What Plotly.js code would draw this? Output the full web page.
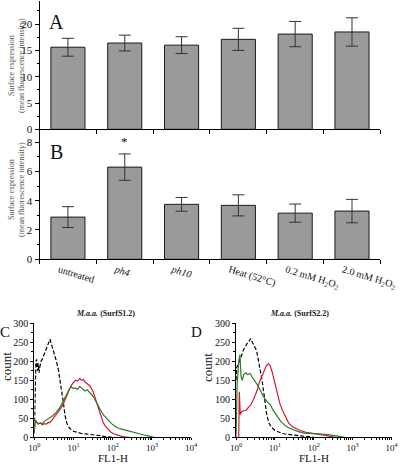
<!DOCTYPE html>
<html>
<head>
<meta charset="utf-8">
<script src="https://cdn.plot.ly/plotly-3.0.1.min.js"></script>
<style>html,body{margin:0;padding:0;background:#fff;}#chart{width:400px;height:464px;}</style>
</head>
<body>
<div id="chart"></div>
<script>
// ---- Bar chart data (panels A and B) ----
const categories = ['untreated', '<i>ph4</i>', '<i>ph10</i>', 'Heat (52°C)', '0.2 mM H<sub>2</sub>O<sub>2</sub>', '2.0 mM H<sub>2</sub>O<sub>2</sub>'];
const meanA = [15.6, 16.4, 16.0, 17.1, 18.1, 18.5];
const errA  = [1.7, 1.5, 1.6, 2.1, 2.4, 2.7];
const meanB = [2.88, 6.29, 3.75, 3.68, 3.15, 3.29];
const errB  = [0.71, 0.90, 0.47, 0.72, 0.62, 0.80];

// ---- Flow cytometry histograms (panels C and D); FL1-H as log10 exponent ----
const cBlackLog = [0.00,0.02,0.04,0.06,0.08,0.10,0.12,0.14,0.17,0.20,0.24,0.28,0.32,0.36,0.40,0.45,0.50,0.55,0.61,0.66,0.70,0.74,0.78,0.82,0.87,0.92,1.00,1.10,1.20,1.30,1.40,1.50,1.60,1.70,1.80,1.90,2.00];
const cBlackCount = [10,120,200,205,175,195,170,185,200,205,215,230,240,250,258,240,225,205,180,150,125,92,60,40,28,22,16,12,10,9,8,7,5,4,2,1,0];
const cRedLog = [0.00,0.02,0.05,0.10,0.15,0.20,0.25,0.30,0.35,0.40,0.45,0.50,0.57,0.65,0.74,0.83,0.90,0.95,1.00,1.05,1.10,1.16,1.20,1.25,1.30,1.36,1.42,1.50,1.55,1.60,1.67,1.72,1.76,1.82,1.89,1.95,2.01,2.10,2.20,2.30,2.40];
const cRedCount = [20,38,42,35,38,33,36,35,38,40,45,52,60,72,88,112,128,138,143,150,148,155,150,152,145,140,135,120,105,92,70,50,38,28,20,14,10,6,3,1,0];
const cGreenLog = [0.00,0.02,0.05,0.10,0.15,0.20,0.25,0.30,0.35,0.40,0.47,0.55,0.65,0.72,0.78,0.84,0.90,0.95,1.00,1.05,1.10,1.16,1.22,1.29,1.35,1.40,1.45,1.50,1.55,1.60,1.66,1.72,1.78,1.84,1.90,1.97,2.05,2.12,2.20,2.30,2.40,2.50,2.60,2.70,2.80,2.90,3.00,3.05];
const cGreenCount = [15,45,40,35,38,36,42,45,50,52,57,65,78,92,103,118,128,133,128,130,126,134,128,122,125,120,115,108,98,88,78,66,57,50,42,36,30,25,22,19,16,13,11,8,6,4,1,0];

const dBlackLog = [0.00,0.02,0.06,0.10,0.15,0.20,0.25,0.30,0.35,0.38,0.42,0.47,0.53,0.58,0.63,0.67,0.70,0.75,0.79,0.84,0.90,1.00,1.10,1.20,1.30,1.45,1.60,1.75,1.90,2.00];
const dBlackCount = [150,185,192,205,215,232,240,250,255,260,250,240,228,200,175,150,128,88,60,40,28,18,13,10,8,6,5,3,1,0];
const dRedLog = [0.07,0.085,0.11,0.15,0.20,0.27,0.33,0.38,0.45,0.50,0.55,0.60,0.66,0.72,0.78,0.83,0.88,0.93,0.98,1.03,1.08,1.13,1.20,1.27,1.35,1.45,1.55,1.65,1.80,1.95,2.10,2.30,2.45,2.55];
const dRedCount = [0,120,60,68,70,72,80,85,100,112,125,145,158,175,188,194,188,172,150,128,105,88,70,55,38,28,22,18,13,10,8,5,2,0];
const dGreenLog = [0.00,0.03,0.07,0.10,0.13,0.16,0.20,0.25,0.30,0.36,0.42,0.48,0.55,0.62,0.70,0.79,0.88,0.95,1.05,1.15,1.25,1.35,1.48,1.60,1.75,1.90,2.10,2.30,2.50,2.60,2.70,2.80];
const dGreenCount = [0,140,200,217,160,150,165,170,165,168,158,150,138,125,108,95,86,72,58,42,32,25,20,15,11,10,10,8,5,3,1,0];

const decadeVals = [1, 10, 100, 1000, 10000];
const decadeText = ['10<sup>0</sup>', '10<sup>1</sup>', '10<sup>2</sup>', '10<sup>3</sup>', '10<sup>4</sup>'];

const SERIF = '"Liberation Serif", "Times New Roman", serif';
const BAR_COLOR = '#9a9a9a';
const RED = '#d11a36';
const GREEN = '#2a7a2a';

const toLin = arr => arr.map(v => Math.pow(10, v));
const minorLog = [];
for (let d = 0; d < 4; d++) for (let k = 2; k <= 9; k++) minorLog.push(k * Math.pow(10, d));

const idx = categories.map((_, i) => i);

const traces = [
  { type: 'bar', x: categories, y: meanA, xaxis: 'x', yaxis: 'y', width: 0.6,
    marker: { color: BAR_COLOR, line: { color: '#1a1a1a', width: 1 } },
    error_y: { type: 'data', array: errA, visible: true, color: '#333', thickness: 1, width: 6 },
    hoverinfo: 'skip', showlegend: false },
  { type: 'bar', x: categories, y: meanB, xaxis: 'x2', yaxis: 'y2', width: 0.6,
    marker: { color: BAR_COLOR, line: { color: '#1a1a1a', width: 1 } },
    error_y: { type: 'data', array: errB, visible: true, color: '#333', thickness: 1, width: 6 },
    hoverinfo: 'skip', showlegend: false },
  { type: 'scatter', mode: 'lines', x: toLin(cBlackLog), y: cBlackCount, xaxis: 'x5', yaxis: 'y5',
    line: { color: '#000', width: 1.2, dash: '4px,2px' }, showlegend: false },
  { type: 'scatter', mode: 'lines', x: toLin(cRedLog), y: cRedCount, xaxis: 'x5', yaxis: 'y5',
    line: { color: RED, width: 1.2 }, showlegend: false },
  { type: 'scatter', mode: 'lines', x: toLin(cGreenLog), y: cGreenCount, xaxis: 'x5', yaxis: 'y5',
    line: { color: GREEN, width: 1.2 }, showlegend: false },
  { type: 'scatter', mode: 'lines', x: toLin(dBlackLog), y: dBlackCount, xaxis: 'x6', yaxis: 'y6',
    line: { color: '#000', width: 1.2, dash: '4px,2px' }, showlegend: false },
  { type: 'scatter', mode: 'lines', x: toLin(dRedLog), y: dRedCount, xaxis: 'x6', yaxis: 'y6',
    line: { color: RED, width: 1.2 }, showlegend: false },
  { type: 'scatter', mode: 'lines', x: toLin(dGreenLog), y: dGreenCount, xaxis: 'x6', yaxis: 'y6',
    line: { color: GREEN, width: 1.2 }, showlegend: false }
];

const barXDomain = [0.0988, 0.951];
const domA = [0.7213, 0.998];
const domB = [0.4412, 0.7213];
const rangeA = [0, 24.4];
const rangeB = [0, 8.87];
const tickFont = { family: SERIF, size: 11, color: '#111' };

const catBottom = (anchor, labels) => ({
  type: 'category', domain: barXDomain, anchor: anchor, range: [-0.5, 5.5],
  tickson: 'boundaries', ticks: 'outside', ticklen: 4, tickcolor: '#000',
  showticklabels: labels, tickangle: labels ? 17 : 0, ticklabelshift: labels ? -9 : 0,
  tickfont: { family: SERIF, size: 10, color: '#111' },
  showline: true, linecolor: '#000', linewidth: 1, showgrid: false, zeroline: false, fixedrange: true
});
const topTicks = (over, anchor) => ({
  overlaying: over, anchor: anchor, side: 'top', type: 'linear', range: [-0.5, 5.5],
  tickmode: 'array', tickvals: idx, ticks: 'inside', ticklen: 4, tickcolor: '#000',
  showticklabels: false, showline: true, linecolor: '#000', linewidth: 1, showgrid: false, zeroline: false
});
const leftY = (dom, anchor, range, dt) => ({
  domain: dom, anchor: anchor, range: range, dtick: dt, tick0: 0,
  ticks: 'outside', ticklen: 4, tickcolor: '#000', tickfont: tickFont,
  minor: { dtick: dt / 2, tick0: 0, ticks: 'outside', ticklen: 2, tickcolor: '#000' },
  showline: true, linecolor: '#000', linewidth: 1, showgrid: false, zeroline: false, fixedrange: true
});
const rightY = (over, anchor, range, dt) => ({
  overlaying: over, anchor: anchor, side: 'right', range: range, dtick: dt, tick0: 0,
  ticks: 'inside', ticklen: 4, tickcolor: '#000',
  minor: { dtick: dt / 2, tick0: 0, ticks: 'inside', ticklen: 2, tickcolor: '#000' },
  showticklabels: false, showline: true, linecolor: '#000', linewidth: 1, showgrid: false, zeroline: false
});
const histX = (dom, anchor) => ({
  type: 'log', domain: dom, anchor: anchor, range: [0, 4],
  tickmode: 'array', tickvals: decadeVals, ticktext: decadeText,
  ticks: 'outside', ticklen: 2, tickcolor: '#000', tickfont: { family: SERIF, size: 9, color: '#111' },
  minor: { tickmode: 'array', tickvals: minorLog, ticks: 'outside', ticklen: 2, tickcolor: '#000' },
  showline: true, linecolor: '#000', linewidth: 1, showgrid: false, zeroline: false
});
const histY = (anchor) => ({
  domain: [0.0575, 0.3032], anchor: anchor, range: [0, 300], dtick: 50, tick0: 0,
  ticks: 'outside', ticklen: 3, tickcolor: '#000', tickfont: { family: SERIF, size: 10, color: '#111' },
  minor: { dtick: 25, tick0: 0, ticks: 'outside', ticklen: 2, tickcolor: '#000' },
  showline: true, linecolor: '#000', linewidth: 1, showgrid: false, zeroline: false
});

const ann = (text, x, yPx, size, extra) => Object.assign({
  text: text, xref: 'paper', yref: 'paper', x: x / 400, y: 1 - yPx / 464,
  xanchor: 'center', yanchor: 'middle', showarrow: false,
  font: { family: SERIF, size: size, color: '#111' }
}, extra || {});

const yTitleText = 'Surface expression<br>(mean fluorescence intensity)';
const yTitleFont = { family: SERIF, size: 8, color: '#555' };

const layout = {
  width: 400, height: 464,
  margin: { l: 0, r: 0, t: 0, b: 0 },
  paper_bgcolor: '#fff', plot_bgcolor: 'rgba(0,0,0,0)',
  showlegend: false, bargap: 0.4,
  font: { family: SERIF, color: '#111' },
  xaxis: catBottom('y', false),
  yaxis: leftY(domA, 'x', rangeA, 5),
  xaxis2: catBottom('y2', true),
  yaxis2: leftY(domB, 'x2', rangeB, 2),
  xaxis3: topTicks('x', 'y'),
  yaxis3: rightY('y', 'x', rangeA, 5),
  xaxis4: topTicks('x2', 'y2'),
  yaxis4: rightY('y2', 'x2', rangeB, 2),
  xaxis5: histX([0.0858, 0.478], 'y5'),
  yaxis5: histY('x5'),
  xaxis6: histX([0.59, 0.979], 'y6'),
  yaxis6: histY('x6'),
  annotations: [
    ann(yTitleText, 16, 66, 8, { textangle: -90, font: yTitleFont }),
    ann(yTitleText, 16, 190, 8, { textangle: -90, font: yTitleFont }),
    ann('A', 56, 22, 20),
    ann('B', 56, 152, 20),
    { text: '*', xref: 'x2', yref: 'y2', x: categories[1], y: meanB[1] + errB[1], yshift: 12,
      xanchor: 'center', yanchor: 'middle', showarrow: false, font: { family: SERIF, size: 13, color: '#111' } },
    ann('C', 5, 332, 15),
    ann('D', 196, 332, 15),
    ann('<b><i>M.a.a.</i> (SurfS1.2)</b>', 105, 313, 8, { font: { family: SERIF, size: 8, color: '#222' } }),
    ann('<b><i>M.a.a.</i> (SurfS2.2)</b>', 299, 313, 8, { font: { family: SERIF, size: 8, color: '#222' } }),
    ann('count', 6, 367, 13, { textangle: -90 }),
    ann('count', 207, 367, 13, { textangle: -90 }),
    ann('FL1-H', 113, 458, 11),
    ann('FL1-H', 314, 458, 11)
  ]
};

Plotly.newPlot('chart', traces, layout, { displayModeBar: false, staticPlot: true });
</script>
</body>
</html>
